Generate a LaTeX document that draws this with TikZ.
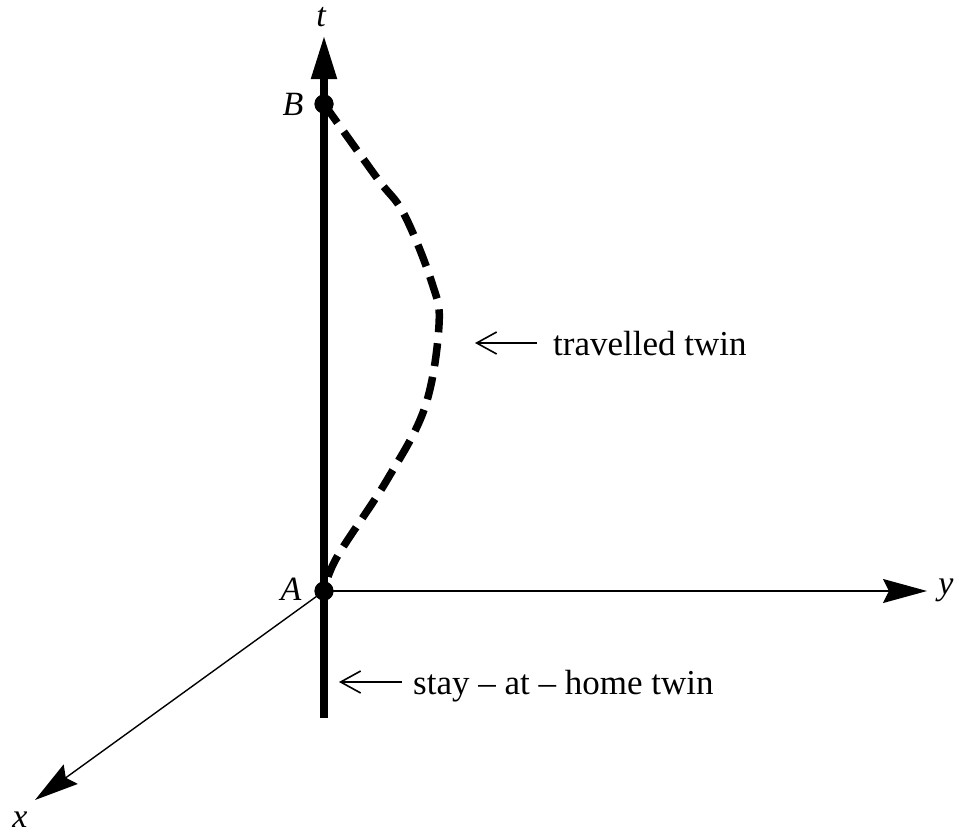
\documentclass[tikz,border=0pt]{standalone}
\usepackage{fontspec}
\setmainfont{Liberation Serif}
\usetikzlibrary{arrows.meta}
\begin{document}
\begin{tikzpicture}[x=1pt,y=-1pt,
  thinaxis/.style={line width=1.4pt},
  bigtip/.style={-{Stealth[length=44pt,width=24pt,inset=6pt]}},
  dot/.style={circle,fill=black,inner sep=0pt,minimum size=19pt},
  axlabel/.style={font=\fontsize{34}{38}\selectfont\itshape,inner sep=0pt},
  note/.style={font=\fontsize{35}{40}\selectfont,inner sep=0pt,anchor=base west},
  pointer/.style={line width=1.6pt,{Straight Barb[length=20pt,width=22pt,line width=1.6pt]}-}]
\useasboundingbox (0,0) rectangle (959,836);
% points
\node[dot] (A) at (324,591) {};
\node[dot] (B) at (324,104) {};
\coordinate (tbot) at (324,718);
\coordinate (ttop) at (324,35);
\coordinate (yend) at (927,591);
\coordinate (xend) at (35,800);
% axes
\draw[thinaxis,bigtip] (A.center) -- (yend);
\draw[thinaxis,bigtip] (A.center) -- (xend);
\draw[line width=8pt,-{Triangle[length=44pt,width=24pt]}] (tbot) -- (ttop);
\node[dot] at (A) {};
\node[dot] at (B) {};
% travelled twin path
\draw[line width=7.5pt,dash pattern=on 23pt off 11pt]
  plot[smooth,tension=0.6] coordinates {(324,104) (377,178) (404,214) (432,283) (439,325) (425,407) (387,480) (337,557) (324,591)};
% labels
\node[axlabel] (tl) at (321,17) {t};
\node[axlabel] (Bl) at (293,104) {B};
\node[axlabel] (Al) at (291,589) {A};
\node[axlabel] (yl) at (946,590) {y};
\node[axlabel] (xl) at (20,820) {x};
% notes
\node[note] (trav) at (553,355) {travelled twin};
\node[note] (stay) at (413,694) {stay -- at -- home twin};
\coordinate (travtip) at (475,343);
\coordinate (staytip) at (339,682);
\draw[pointer] (travtip) -- (537,343);
\draw[pointer] (staytip) -- (402,682);
\end{tikzpicture}
\end{document}
